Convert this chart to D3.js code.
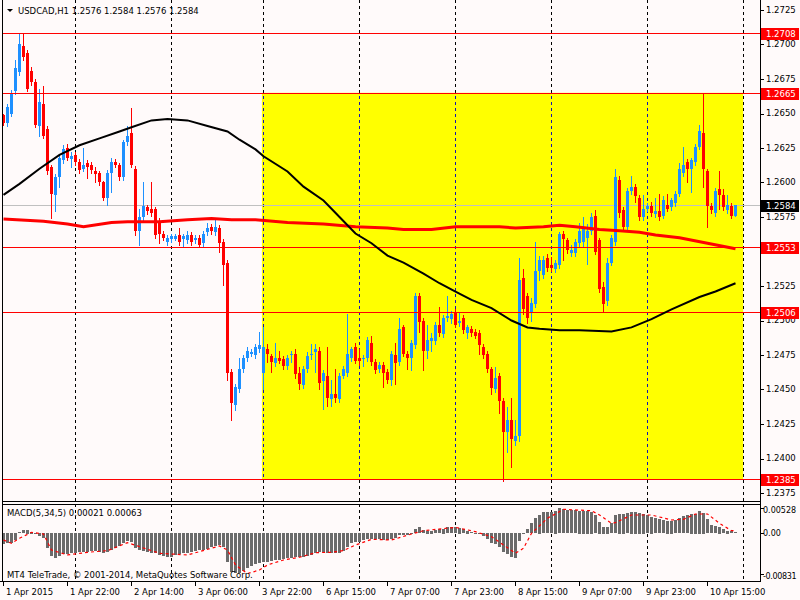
<!DOCTYPE html>
<html><head><meta charset="utf-8">
<script src="https://cdn.jsdelivr.net/npm/d3@7"></script>
<style>
body{margin:0;background:#FFFAFA}
svg{display:block}
text{font-family:"DejaVu Sans",sans-serif;font-size:8.5px;fill:#000}
</style>
</head><body>
<svg id="c" width="800" height="600"></svg>
<script>
// ---------- DATA ----------
const symbolTitle = "USDCAD,H1  1.2576 1.2584 1.2576 1.2584";
const open = [1.2649,1.2643,1.2650,1.2666,1.2680,1.2699,1.2694,1.2681,1.2673,1.2641,1.2657,1.2639,1.2611,1.2591,1.2604,1.2616,1.2625,1.2617,1.2620,1.2615,
1.2610,1.2614,1.2613,1.2608,1.2607,1.2600,1.2589,1.2607,1.2615,1.2613,1.2604,1.2629,1.2636,1.2610,1.2565,1.2575,1.2582,1.2581,1.2581,1.2571,
1.2563,1.2557,1.2559,1.2559,1.2562,1.2559,1.2558,1.2562,1.2558,1.2560,1.2556,1.2564,1.2568,1.2564,1.2567,1.2557,1.2542,1.2463,1.2439,1.2450,
1.2465,1.2473,1.2476,1.2475,1.2479,1.2462,1.2479,1.2474,1.2469,1.2473,1.2472,1.2467,1.2475,1.2476,1.2462,1.2453,1.2465,1.2475,1.2477,1.2478,
1.2456,1.2460,1.2443,1.2447,1.2443,1.2460,1.2462,1.2473,1.2481,1.2473,1.2472,1.2473,1.2484,1.2470,1.2465,1.2468,1.2463,1.2457,1.2475,1.2470,
1.2495,1.2476,1.2473,1.2482,1.2518,1.2500,1.2478,1.2485,1.2485,1.2497,1.2490,1.2502,1.2501,1.2506,1.2498,1.2502,1.2491,1.2494,1.2492,1.2491,
1.2481,1.2476,1.2465,1.2450,1.2460,1.2442,1.2419,1.2428,1.2413,1.2416,1.2531,1.2518,1.2506,1.2512,1.2536,1.2533,1.2545,1.2540,1.2537,1.2540,
1.2563,1.2558,1.2549,1.2549,1.2556,1.2557,1.2560,1.2565,1.2576,1.2558,1.2524,1.2514,1.2542,1.2557,1.2602,1.2580,1.2568,1.2594,1.2597,1.2589,
1.2575,1.2581,1.2583,1.2577,1.2579,1.2576,1.2584,1.2582,1.2585,1.2592,1.2607,1.2615,1.2610,1.2615,1.2626,1.2636,1.2608,1.2583,1.2578,1.2595,
1.2591,1.2580,1.2583,1.2576];
const high = [1.2650,1.2657,1.2667,1.2689,1.2708,1.2708,1.2696,1.2684,1.2675,1.2668,1.2670,1.2641,1.2613,1.2606,1.2620,1.2627,1.2628,1.2622,1.2622,1.2617,
1.2625,1.2616,1.2615,1.2611,1.2608,1.2601,1.2609,1.2618,1.2617,1.2614,1.2631,1.2641,1.2654,1.2612,1.2581,1.2600,1.2584,1.2600,1.2582,1.2574,
1.2565,1.2562,1.2563,1.2563,1.2567,1.2563,1.2565,1.2564,1.2562,1.2562,1.2565,1.2571,1.2570,1.2573,1.2569,1.2559,1.2544,1.2465,1.2454,1.2473,
1.2475,1.2481,1.2479,1.2483,1.2492,1.2495,1.2483,1.2476,1.2484,1.2478,1.2474,1.2475,1.2478,1.2479,1.2466,1.2467,1.2477,1.2483,1.2483,1.2481,
1.2464,1.2481,1.2457,1.2465,1.2462,1.2467,1.2505,1.2481,1.2484,1.2479,1.2475,1.2488,1.2489,1.2472,1.2470,1.2470,1.2465,1.2478,1.2484,1.2502,
1.2497,1.2478,1.2486,1.2520,1.2520,1.2502,1.2497,1.2491,1.2499,1.2510,1.2504,1.2518,1.2507,1.2508,1.2506,1.2504,1.2497,1.2496,1.2494,1.2493,
1.2483,1.2478,1.2466,1.2466,1.2462,1.2444,1.2437,1.2444,1.2428,1.2545,1.2537,1.2520,1.2516,1.2557,1.2547,1.2547,1.2548,1.2546,1.2544,1.2564,
1.2565,1.2560,1.2555,1.2559,1.2571,1.2575,1.2570,1.2578,1.2580,1.2560,1.2528,1.2545,1.2562,1.2610,1.2605,1.2582,1.2596,1.2605,1.2599,1.2591,
1.2591,1.2585,1.2586,1.2589,1.2592,1.2590,1.2592,1.2589,1.2594,1.2614,1.2626,1.2617,1.2618,1.2628,1.2642,1.2665,1.2610,1.2585,1.2596,1.2608,
1.2595,1.2591,1.2585,1.2584];
const low = [1.2642,1.2641,1.2648,1.2664,1.2678,1.2689,1.2666,1.2671,1.2640,1.2634,1.2632,1.2606,1.2574,1.2579,1.2597,1.2614,1.2616,1.2611,1.2613,1.2607,
1.2608,1.2603,1.2607,1.2600,1.2598,1.2587,1.2584,1.2593,1.2611,1.2602,1.2602,1.2627,1.2611,1.2562,1.2555,1.2573,1.2577,1.2576,1.2560,1.2556,
1.2558,1.2555,1.2557,1.2558,1.2555,1.2554,1.2556,1.2555,1.2556,1.2553,1.2554,1.2562,1.2563,1.2562,1.2550,1.2526,1.2457,1.2428,1.2435,1.2448,
1.2463,1.2471,1.2474,1.2473,1.2477,1.2450,1.2470,1.2463,1.2467,1.2469,1.2465,1.2465,1.2470,1.2458,1.2450,1.2451,1.2463,1.2472,1.2463,1.2450,
1.2436,1.2438,1.2438,1.2441,1.2441,1.2458,1.2460,1.2471,1.2469,1.2468,1.2467,1.2471,1.2468,1.2462,1.2463,1.2452,1.2455,1.2453,1.2454,1.2468,
1.2474,1.2465,1.2464,1.2480,1.2492,1.2464,1.2473,1.2478,1.2483,1.2489,1.2488,1.2500,1.2498,1.2495,1.2496,1.2491,1.2487,1.2489,1.2487,1.2476,
1.2473,1.2463,1.2447,1.2448,1.2433,1.2384,1.2405,1.2394,1.2410,1.2413,1.2505,1.2498,1.2500,1.2510,1.2529,1.2531,1.2536,1.2536,1.2535,1.2538,
1.2544,1.2549,1.2547,1.2547,1.2554,1.2554,1.2541,1.2563,1.2548,1.2521,1.2506,1.2511,1.2540,1.2555,1.2575,1.2566,1.2566,1.2592,1.2586,1.2573,
1.2573,1.2579,1.2576,1.2575,1.2573,1.2574,1.2579,1.2580,1.2583,1.2590,1.2605,1.2600,1.2593,1.2613,1.2624,1.2597,1.2568,1.2578,1.2576,1.2581,
1.2580,1.2578,1.2574,1.2576];
const close = [1.2643,1.2655,1.2665,1.2683,1.2700,1.2691,1.2668,1.2673,1.2642,1.2658,1.2634,1.2608,1.2592,1.2604,1.2618,1.2624,1.2618,1.2619,1.2615,1.2609,
1.2613,1.2611,1.2609,1.2606,1.2600,1.2589,1.2607,1.2615,1.2613,1.2604,1.2629,1.2634,1.2613,1.2565,1.2575,1.2583,1.2579,1.2578,1.2562,1.2563,
1.2560,1.2560,1.2561,1.2561,1.2557,1.2561,1.2562,1.2557,1.2560,1.2555,1.2563,1.2567,1.2565,1.2568,1.2556,1.2540,1.2462,1.2440,1.2452,1.2465,
1.2473,1.2478,1.2477,1.2481,1.2482,1.2481,1.2476,1.2470,1.2473,1.2471,1.2467,1.2473,1.2476,1.2461,1.2454,1.2465,1.2474,1.2476,1.2479,1.2455,
1.2462,1.2444,1.2447,1.2444,1.2460,1.2465,1.2476,1.2479,1.2471,1.2471,1.2473,1.2486,1.2470,1.2464,1.2468,1.2462,1.2457,1.2476,1.2469,1.2494,
1.2476,1.2473,1.2484,1.2518,1.2499,1.2478,1.2486,1.2487,1.2497,1.2491,1.2502,1.2503,1.2505,1.2497,1.2500,1.2493,1.2495,1.2491,1.2489,1.2482,
1.2475,1.2465,1.2451,1.2458,1.2442,1.2419,1.2428,1.2414,1.2416,1.2529,1.2508,1.2502,1.2513,1.2536,1.2544,1.2544,1.2538,1.2538,1.2542,1.2563,
1.2559,1.2551,1.2551,1.2557,1.2565,1.2566,1.2565,1.2575,1.2550,1.2523,1.2512,1.2542,1.2560,1.2604,1.2578,1.2568,1.2594,1.2597,1.2590,1.2575,
1.2581,1.2583,1.2578,1.2579,1.2575,1.2587,1.2581,1.2587,1.2592,1.2610,1.2613,1.2610,1.2616,1.2626,1.2637,1.2610,1.2583,1.2580,1.2594,1.2591,
1.2582,1.2584,1.2576,1.2584];

// moving averages, sampled at bar indices
const maFastBars = [0,4,9,14,19,24,29,32,37,41,46,51,56,59,63,65,71,75,80,84,88,92,96,100,105,109,113,117,122,127,131,134,139,144,152,157,162,167,174,178,183];
const maFastVals = [1.2591,1.2599,1.2610,1.2620,1.2627,1.2632,1.2637,1.2640,1.2645,1.2646,1.2645,1.2641,1.2637,1.2631,1.2624,1.2619,1.2608,1.2597,1.2587,1.2575,1.2563,1.2556,1.2547,1.2542,1.2534,1.2527,1.2521,1.2515,1.2509,1.2500,1.2495,1.2494,1.2493,1.2493,1.2492,1.2495,1.2501,1.2508,1.2517,1.2521,1.2527];
const maSlowBars = [0,10,16,20,27,31,39,46,52,57,63,71,80,88,96,100,107,113,124,128,135,139,143,149,154,159,163,169,176,183];
const maSlowVals = [1.25735,1.2572,1.2570,1.2568,1.2571,1.25715,1.25715,1.2573,1.2574,1.2573,1.2573,1.2571,1.2570,1.2568,1.2567,1.2566,1.2566,1.2568,1.2568,1.2567,1.2568,1.2569,1.2568,1.2566,1.2565,1.2564,1.2562,1.2560,1.2556,1.2552];

// MACD(5,34,5) main histogram, one value per bar
const macdMain = [-0.00238,-0.00204,-0.00204,-0.00150,0.00024,0.00072,0.00080,0.00038,-0.00020,-0.00052,-0.00100,-0.00307,-0.00480,-0.00514,-0.00480,-0.00445,-0.00431,-0.00411,-0.00411,-0.00397,
-0.00390,-0.00390,-0.00376,-0.00376,-0.00390,-0.00411,-0.00390,-0.00342,-0.00321,-0.00273,-0.00217,-0.00169,-0.00190,-0.00307,-0.00355,-0.00376,-0.00397,-0.00411,-0.00424,-0.00459,
-0.00480,-0.00493,-0.00493,-0.00466,-0.00445,-0.00424,-0.00411,-0.00390,-0.00376,-0.00355,-0.00345,-0.00328,-0.00296,-0.00266,-0.00255,-0.00300,-0.00600,-0.00800,-0.00831,-0.00825,
-0.00780,-0.00720,-0.00680,-0.00650,-0.00620,-0.00605,-0.00595,-0.00580,-0.00566,-0.00555,-0.00540,-0.00525,-0.00514,-0.00505,-0.00493,-0.00487,-0.00475,-0.00455,-0.00420,-0.00400,
-0.00395,-0.00411,-0.00424,-0.00424,-0.00411,-0.00376,-0.00290,-0.00210,-0.00183,-0.00180,-0.00140,-0.00125,-0.00118,-0.00121,-0.00125,-0.00135,-0.00140,-0.00120,-0.00100,-0.00050,
-0.00045,-0.00040,-0.00010,0.00086,0.00128,0.00072,0.00059,0.00059,0.00072,0.00086,0.00100,0.00128,0.00128,0.00128,0.00114,0.00093,0.00059,0.00031,0.00017,-0.00010,
-0.00052,-0.00121,-0.00204,-0.00224,-0.00286,-0.00397,-0.00445,-0.00493,-0.00521,-0.00169,0.00017,0.00086,0.00210,0.00314,0.00390,0.00438,0.00445,0.00445,0.00473,0.00528,
0.00500,0.00486,0.00486,0.00486,0.00473,0.00473,0.00473,0.00452,0.00383,0.00245,0.00141,0.00141,0.00210,0.00383,0.00404,0.00404,0.00418,0.00452,0.00452,0.00431,
0.00404,0.00383,0.00348,0.00314,0.00293,0.00279,0.00266,0.00266,0.00279,0.00314,0.00362,0.00383,0.00404,0.00404,0.00473,0.00431,0.00293,0.00176,0.00155,0.00141,
0.00086,0.00059,0.00045,0.00021];
// signal line, sampled at bar indices
const sigBars = [0,2,4,7,10,12,16,21,26,31,34,39,46,49,54,56,58,61,64,66,70,74,78,82,85,88,92,97,102,105,113,118,122,125,128,130,132,136,140,147,149,152,153,157,162,167,170,173,176,179,182,183];
const sigVals = [-0.00135,-0.00204,-0.00100,0.00024,-0.00010,-0.00342,-0.00445,-0.00390,-0.00355,-0.00190,-0.00273,-0.00411,-0.00445,-0.00376,-0.00259,-0.00342,-0.00652,-0.00831,-0.00756,-0.00652,-0.00549,-0.00493,-0.00397,-0.00390,-0.00355,-0.00238,-0.00121,-0.00135,-0.00010,0.00058,0.00128,0.00037,-0.00066,-0.00238,-0.00410,-0.00306,0.00004,0.00315,0.00501,0.00472,0.00383,0.00211,0.00224,0.00383,0.00383,0.00279,0.00294,0.00404,0.00404,0.00211,0.00058,0.00063];

const levels = [1.2708, 1.2665, 1.2553, 1.2506, 1.2385];
const bidPrice = 1.2584;
const zoneBars = [64.6, 184.9];
const zonePrices = [1.2665, 1.2385];
const separatorBars = [18, 42, 65, 89, 113, 137, 161, 185];
const priceTicks = [1.2725,1.2700,1.2675,1.2650,1.2625,1.2600,1.2575,1.2550,1.2525,1.2500,1.2475,1.2450,1.2425,1.2400,1.2375];
const timeTickBars = [0,16,32,48,64,80,96,112,128,144,160,176];
const timeTickLabels = ["1 Apr 2015","1 Apr 22:00","2 Apr 14:00","3 Apr 06:00","3 Apr 22:00","6 Apr 15:00","7 Apr 07:00","7 Apr 23:00","8 Apr 15:00","9 Apr 07:00","9 Apr 23:00","10 Apr 15:00"];
const macdTicks = [0.00528, 0, -0.00831];
const macdTickLabels = ["0.00528", "0.00", "-0.00831"];
const macdTitle = "MACD(5,34,5) 0.00021 0.00063";
const copyright = "MT4 TeleTrade, \u00A9 2001-2014, MetaQuotes Software Corp.";

// ---------- LAYOUT ----------
const L = 2, R = 760, MAIN_T = 0, MAIN_B = 501, M_T = 504, M_B = 581;
const svg = d3.select("#c");
const x = d3.scaleLinear().domain([0, 1]).range([3.5, 7.5]);
const y = d3.scaleLinear().domain([1.2375, 1.2725]).range([493, 10]);
const ym = d3.scaleLinear().domain([-0.00831, 0.00528]).range([573.6, 508]);
const BULL = "#1E90FF", BEAR = "#FF0000";

svg.append("rect").attr("width", 800).attr("height", 600).attr("fill", "#FFFAFA");

// zone
svg.append("rect").attr("x", x(zoneBars[0])).attr("y", y(zonePrices[0]))
  .attr("width", x(zoneBars[1]) - x(zoneBars[0])).attr("height", y(zonePrices[1]) - y(zonePrices[0]))
  .attr("fill", "#FFFF00");
svg.append("clipPath").attr("id", "zc").append("rect")
  .attr("x", x(zoneBars[0])).attr("y", y(zonePrices[0]))
  .attr("width", x(zoneBars[1]) - x(zoneBars[0]) - 1).attr("height", y(zonePrices[1]) - y(zonePrices[0]));

// separators
const sepX = b => Math.round(x(b) - 0.5) + 0.5;
svg.append("g").selectAll("line").data(separatorBars).join("line")
  .attr("x1", sepX).attr("x2", sepX).attr("y1", MAIN_T).attr("y2", M_B)
  .attr("stroke", "#000").attr("stroke-dasharray", "3,3");
svg.append("g").attr("clip-path", "url(#zc)").selectAll("line").data(separatorBars).join("line")
  .attr("x1", sepX).attr("x2", sepX).attr("y1", MAIN_T).attr("y2", M_B)
  .attr("stroke", "#1414B4").attr("stroke-dasharray", "3,3");

// bid line
const py = p => Math.round(y(p)) + 0.5;
svg.append("line").attr("x1", L).attr("x2", R).attr("y1", py(bidPrice)).attr("y2", py(bidPrice)).attr("stroke", "#C0C0C0");

// candles
const idx = d3.range(close.length);
const cg = svg.append("g");
cg.selectAll("line").data(idx).join("line")
  .attr("x1", i => x(i)).attr("x2", i => x(i))
  .attr("y1", i => Math.round(y(high[i]))).attr("y2", i => Math.round(y(low[i])) + 1)
  .attr("stroke", i => close[i] >= open[i] ? BULL : BEAR);
cg.selectAll("rect").data(idx).join("rect")
  .attr("x", i => x(i) - 1.5).attr("width", 3)
  .attr("y", i => Math.round(y(Math.max(open[i], close[i]))))
  .attr("height", i => Math.max(1, Math.round(y(Math.min(open[i], close[i]))) - Math.round(y(Math.max(open[i], close[i])))))
  .attr("fill", i => close[i] >= open[i] ? BULL : BEAR);

// horizontal levels
svg.append("g").selectAll("line").data(levels).join("line")
  .attr("x1", L).attr("x2", R).attr("y1", py).attr("y2", py).attr("stroke", "#FF0000");

// moving averages
const lineGen = d3.line().x(d => x(d[0])).y(d => y(d[1]));
svg.append("path").attr("d", lineGen(d3.zip(maSlowBars, maSlowVals))).attr("fill", "none").attr("stroke", "#FF0000").attr("stroke-width", 3);
svg.append("path").attr("d", lineGen(d3.zip(maFastBars, maFastVals))).attr("fill", "none").attr("stroke", "#000").attr("stroke-width", 2);

// MACD pane
const zeroY = ym(0);
svg.append("g").selectAll("rect").data(idx).join("rect")
  .attr("x", i => x(i) - 1.5).attr("width", 3)
  .attr("y", i => Math.round(Math.min(ym(macdMain[i]), zeroY)))
  .attr("height", i => Math.max(1, Math.round(Math.abs(ym(macdMain[i]) - zeroY))))
  .attr("fill", "#6B6B6B");
svg.append("path").attr("d", d3.line().x(d => x(d[0])).y(d => ym(d[1]))(d3.zip(sigBars, sigVals)))
  .attr("fill", "none").attr("stroke", "#FF0000").attr("stroke-width", 1.2).attr("stroke-dasharray", "3,3");

// frames
const fr = svg.append("g").attr("stroke", "#000").attr("shape-rendering", "crispEdges");
fr.append("line").attr("x1", L + 0.5).attr("x2", L + 0.5).attr("y1", 0).attr("y2", M_B);
fr.append("line").attr("x1", R + 0.5).attr("x2", R + 0.5).attr("y1", 0).attr("y2", M_B + 1);
fr.append("line").attr("x1", L).attr("x2", R).attr("y1", MAIN_B + 0.5).attr("y2", MAIN_B + 0.5);
fr.append("line").attr("x1", L).attr("x2", R).attr("y1", M_T + 0.5).attr("y2", M_T + 0.5);
fr.append("line").attr("x1", 0).attr("x2", R).attr("y1", M_B + 0.5).attr("y2", M_B + 0.5);

// price axis (labels hidden behind level boxes are clipped like the platform does)
const pa = svg.append("g");
pa.selectAll("line").data(priceTicks).join("line")
  .attr("x1", R).attr("x2", R + 4).attr("y1", py).attr("y2", py).attr("stroke", "#000");
const boxTops = levels.concat([bidPrice]).map(p => Math.round(y(p)) - 5);
const freeTicks = priceTicks.filter(p => !boxTops.some(t => Math.abs(y(p) - (t + 6)) < 9));
const partTicks = priceTicks.filter(p => !freeTicks.includes(p));
pa.selectAll("text.f").data(freeTicks).join("text").attr("class", "f")
  .attr("x", 766).attr("y", p => y(p)).attr("dy", "0.35em").text(p => p.toFixed(4));
partTicks.forEach((p, k) => {
  const t = boxTops.find(t => Math.abs(y(p) - (t + 6)) < 9);
  const below = y(p) > t + 6;
  const cid = "pc" + k;
  svg.append("clipPath").attr("id", cid).append("rect")
    .attr("x", 762).attr("width", 38)
    .attr("y", below ? t + 12 : 0).attr("height", below ? 20 : t);
  pa.append("g").attr("clip-path", `url(#${cid})`).append("text")
    .attr("x", 766).attr("y", y(p)).attr("dy", "0.35em").text(p.toFixed(4));
});

// level labels
const lab = svg.append("g");
const boxes = levels.map(p => ({p, fill: "#FF0000"})).concat([{p: bidPrice, fill: "#000"}]);
lab.selectAll("rect").data(boxes).join("rect")
  .attr("x", 761).attr("width", 38).attr("y", d => Math.round(y(d.p)) - 5).attr("height", 12).attr("fill", d => d.fill);
lab.selectAll("text").data(boxes).join("text")
  .attr("x", 766).attr("y", d => Math.round(y(d.p)) + 1).attr("dy", "0.35em")
  .style("fill", "#fff").text(d => d.p.toFixed(4));

// MACD axis
svg.append("g").selectAll("line").data(macdTicks).join("line")
  .attr("x1", R).attr("x2", R + 4).attr("y1", v => Math.round(ym(v)) + 0.5).attr("y2", v => Math.round(ym(v)) + 0.5).attr("stroke", "#000");
const mLabY = [510, 533.5, 576];
svg.append("g").selectAll("text").data(macdTickLabels).join("text")
  .attr("x", 763).attr("y", (d, k) => mLabY[k]).attr("dy", "0.35em")
  .style("font-size", "8px").style("letter-spacing", (d, k) => k === 2 ? "-0.35px" : null).text(d => d);

// time axis
const ta = svg.append("g");
ta.selectAll("line").data(timeTickBars).join("line")
  .attr("x1", b => sepX(b)).attr("x2", b => sepX(b)).attr("y1", M_B).attr("y2", M_B + 5).attr("stroke", "#000");
ta.selectAll("text").data(timeTickBars).join("text")
  .attr("x", b => x(b) + 2.5).attr("y", 595).text((b, k) => timeTickLabels[k]);

// titles
svg.append("path").attr("d", "M7,9 L13,9 L10,12 Z").attr("fill", "#000");
svg.append("text").attr("x", 18).attr("y", 14).text(symbolTitle);
svg.append("text").attr("x", 7).attr("y", 516).text(macdTitle);
svg.append("text").attr("x", 7).attr("y", 578).text(copyright);
</script>
</body></html>
